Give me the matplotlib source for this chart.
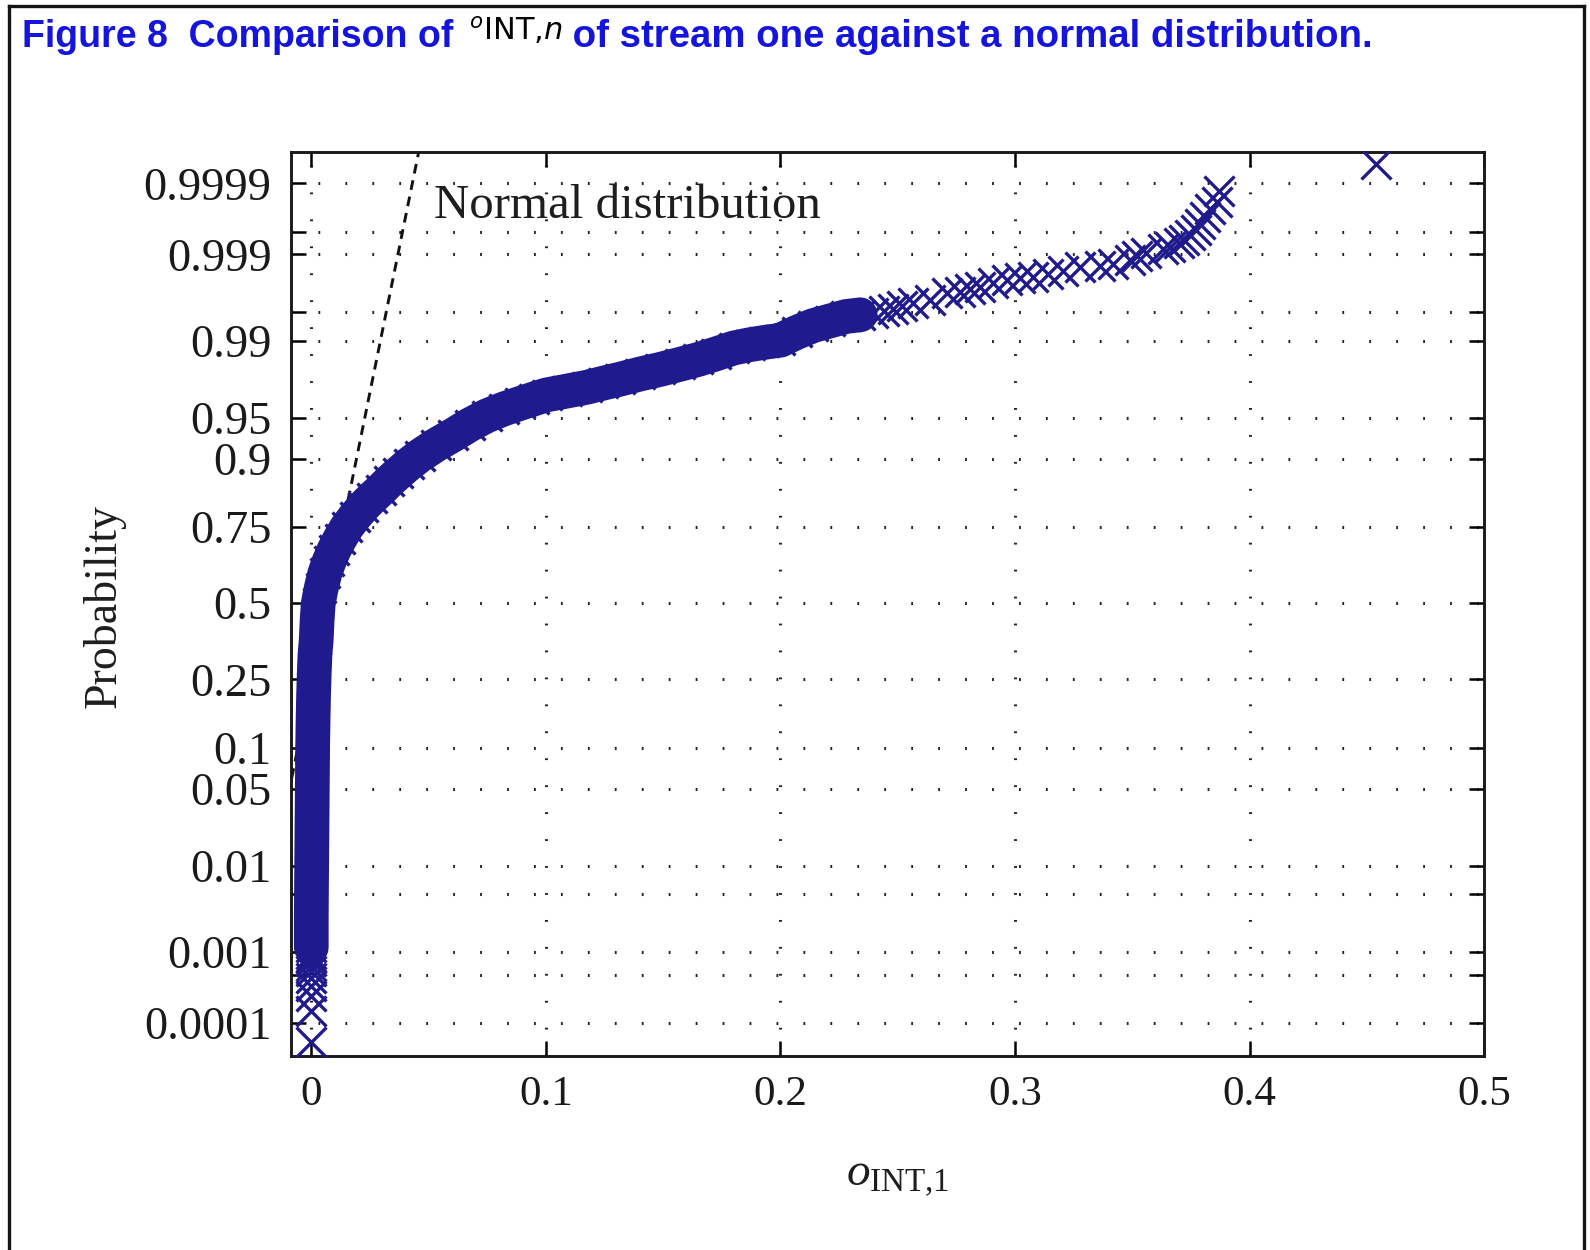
import numpy as np
import matplotlib.pyplot as plt
from matplotlib.lines import Line2D
from statistics import NormalDist

# ค่าที่อ่านจากภาพ: ความน่าจะเป็น (แกน y) และค่า o_INT,1 (แกน x)
tail_low_prob = [0.00005, 0.00015, 0.00025, 0.00035, 0.00045,
                 0.00055, 0.00065, 0.00075, 0.00085, 0.00095]
tail_low_val = [0.0000, 0.0000, 0.0000, 0.0000, 0.0000,
                0.0000, 0.0000, 0.0000, 0.0000, 0.0000]

body_prob = [0.00114, 0.00256, 0.00621, 0.0122, 0.0228, 0.0401, 0.0668,
             0.1056, 0.1587, 0.2119, 0.2743, 0.3264, 0.3707, 0.4404, 0.5,
             0.5517, 0.6045, 0.6443, 0.6812, 0.7157, 0.7492, 0.7779, 0.8037,
             0.8238, 0.8421, 0.8599, 0.8751, 0.8907, 0.9044, 0.9192, 0.9319,
             0.9429, 0.9515, 0.9573, 0.9616, 0.9649, 0.9675, 0.9699, 0.9721,
             0.9744, 0.9764, 0.9788, 0.9808, 0.9828, 0.9846, 0.9864, 0.9881,
             0.9890, 0.98956, 0.9901, 0.9918, 0.99305, 0.99379, 0.99446, 0.99469]
body_val = [0.0000, 0.0000, 0.0001, 0.0002, 0.0003, 0.0004, 0.0005,
            0.0006, 0.0008, 0.0010, 0.0013, 0.0016, 0.0021, 0.0025, 0.0030,
            0.0042, 0.0058, 0.0076, 0.0097, 0.0122, 0.0151, 0.0185, 0.0222,
            0.0258, 0.0296, 0.0333, 0.0371, 0.0415, 0.0463, 0.0530, 0.0605,
            0.0675, 0.0748, 0.0820, 0.0890, 0.0950, 0.1003, 0.1090, 0.1174,
            0.1245, 0.1316, 0.1400, 0.1486, 0.1570, 0.1650, 0.1725, 0.1800,
            0.1870, 0.1930, 0.2000, 0.2070, 0.2140, 0.2210, 0.2280, 0.2340]

tail_high_prob = [0.99491, 0.99520, 0.99547, 0.99579, 0.99606, 0.99643,
                  0.99697, 0.99711, 0.99728, 0.99748, 0.99770, 0.99791,
                  0.99801, 0.99809, 0.99822, 0.99836, 0.99856, 0.99858,
                  0.99869, 0.99882, 0.99895, 0.99903, 0.99916, 0.99921,
                  0.99929, 0.99935, 0.99944, 0.99953, 0.99961, 0.99969,
                  0.99976, 0.99981, 0.99987, 0.99995]
tail_high_val = [0.2395, 0.2440, 0.2480, 0.2520, 0.2566, 0.2637,
                 0.2708, 0.2765, 0.2810, 0.2850, 0.2907, 0.2964,
                 0.3020, 0.3077, 0.3140, 0.3205, 0.3276, 0.3360,
                 0.3418, 0.3490, 0.3520, 0.3560, 0.3630, 0.3660,
                 0.3700, 0.3720, 0.3745, 0.3770, 0.3787, 0.3810,
                 0.3830, 0.3859, 0.3870, 0.4538]

# เส้นประของการแจกแจงปกติ
normal_prob = [0.0001, 0.99999]
normal_val = [-0.0295, 0.0484]

prob_ticks = [0.0001, 0.0005, 0.001, 0.005, 0.01, 0.05, 0.1, 0.25, 0.5,
              0.75, 0.9, 0.95, 0.99, 0.995, 0.999, 0.9995, 0.9999]
prob_labels = ['0.0001', '', '0.001', '', '0.01', '0.05', '0.1', '0.25', '0.5',
               '0.75', '0.9', '0.95', '0.99', '', '0.999', '', '0.9999']
x_ticks = [0, 0.1, 0.2, 0.3, 0.4, 0.5]
x_labels = ['0', '0.1', '0.2', '0.3', '0.4', '0.5']

navy = '#1f1a8e'
serif = 'Liberation Serif'

plt.rcParams['lines.scale_dashes'] = False
plt.rcParams['mathtext.fontset'] = 'custom'
plt.rcParams['mathtext.rm'] = serif
plt.rcParams['mathtext.it'] = serif + ':italic'

# สเกลความน่าจะเป็นแบบ normal probability plot
nd = NormalDist()
_inv = np.vectorize(nd.inv_cdf, otypes=[float])
_cdf = np.vectorize(nd.cdf, otypes=[float])


def to_z(p):
    p = np.clip(np.asarray(p, dtype=float), 1e-12, 1 - 1e-12)
    return _inv(p)


def to_p(z):
    return _cdf(np.asarray(z, dtype=float))


fig = plt.figure(figsize=(15.9, 12.5), dpi=100)
ax = fig.add_axes([0.183, 0.1549, 0.7505, 0.7235])
ax.set_yscale('function', functions=(to_z, to_p))

ax.plot(normal_val, normal_prob, color='#111111', lw=2.1,
        linestyle=(0, (7, 5)), zorder=2)
ax.plot(body_val, body_prob, color=navy, lw=25, solid_capstyle='round',
        solid_joinstyle='round', zorder=3)
mk = dict(marker='x', linestyle='none', color=navy, ms=22, mew=2.4, zorder=3)
ax.plot(body_val, body_prob, **mk)
ax.plot(tail_low_val, tail_low_prob, **mk)
ax.plot(tail_high_val, tail_high_prob, **mk)

ax.set_xlim(-0.00865, 0.5)
ax.set_ylim(2.96e-5, 0.999968)
ax.set_xticks(x_ticks)
ax.set_xticklabels(x_labels)
ax.set_yticks(prob_ticks)
ax.set_yticklabels(prob_labels)
ax.minorticks_off()

ax.set_axisbelow(True)
ax.grid(True, color='#222222', lw=2.2, linestyle=(0, (1.3, 18.1)))
ax.tick_params(direction='in', length=11, width=1.8, top=True, right=True,
               labelsize=31, pad=14)
ax.tick_params(axis='y', labelsize=33.5)
for lab in ax.get_xticklabels() + ax.get_yticklabels():
    lab.set_fontfamily(serif)
    lab.set_color('#1a1a1a')
for sp in ax.spines.values():
    sp.set_linewidth(2.1)
    sp.set_color('#1a1a1a')

ax.text(0.1198, 0.9406, 'Normal distribution', transform=ax.transAxes,
        fontsize=35.2, family=serif, va='center', ha='left', color='#1e1e1e')

fig.text(0.0655, 0.515, 'Probability', rotation=90, fontsize=33, family=serif,
         ha='center', va='center', color='#1e1e1e')
fig.text(0.5645, 0.0592, r'$o_{\mathrm{INT{,}1}}$', fontsize=34,
         ha='center', va='center', color='#1e1e1e')

# หัวเรื่อง
blue = '#1414dc'
y_base = 1 - 47 / 1250
t1 = fig.text(22 / 1590, y_base, 'Figure 8  Comparison of ', fontsize=27,
              fontweight='bold', family='Liberation Sans', color=blue,
              va='baseline', ha='left')
r = fig.canvas.get_renderer()
b1 = t1.get_window_extent(r)
t2 = fig.text(b1.x1 / 1590 + 0.003, y_base + 0.006, r'$^{o}$INT,$n$',
              fontsize=22, family='DejaVu Sans', math_fontfamily='dejavusans',
              color='black', va='baseline', ha='left')
b2 = t2.get_window_extent(r)
fig.text(b2.x1 / 1590, y_base, ' of stream one against a normal distribution.',
         fontsize=27.6, fontweight='bold', family='Liberation Sans', color=blue,
         va='baseline', ha='left')

# กรอบรอบภาพ
fc = '#141414'
fig.add_artist(Line2D([0.0057, 0.9962], [0.9952, 0.9952], color=fc, lw=2.4,
                      transform=fig.transFigure))
fig.add_artist(Line2D([0.0057, 0.0057], [0.0, 0.9952], color=fc, lw=2.4,
                      transform=fig.transFigure))
fig.add_artist(Line2D([0.9962, 0.9962], [0.0, 0.9952], color=fc, lw=2.4,
                      transform=fig.transFigure))

fig.savefig('out.png', dpi=100)
